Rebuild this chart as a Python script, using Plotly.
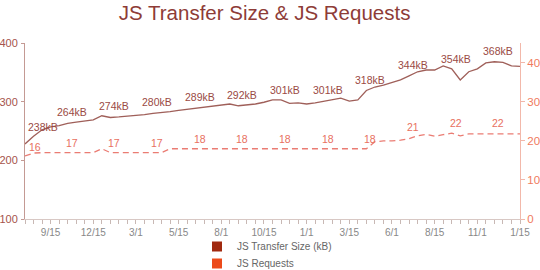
import plotly.graph_objects as go

# Semi-monthly HTTP Archive runs (one run missing in Nov 2011)
dates = [
    "8/1/2011", "8/15/2011", "9/1/2011", "9/15/2011", "10/1/2011", "10/15/2011",
    "11/15/2011", "12/1/2011", "12/15/2011",
    "1/1/2012", "1/15/2012", "2/1/2012", "2/15/2012", "3/1/2012", "3/15/2012",
    "4/1/2012", "4/15/2012", "5/1/2012", "5/15/2012", "6/1/2012", "6/15/2012",
    "7/1/2012", "7/15/2012", "8/1/2012", "8/15/2012", "9/1/2012", "9/15/2012",
    "10/1/2012", "10/15/2012", "11/1/2012", "11/15/2012", "12/1/2012", "12/15/2012",
    "1/1/2013", "1/15/2013", "2/1/2013", "2/15/2013", "3/1/2013", "3/15/2013",
    "4/1/2013", "4/15/2013", "5/1/2013", "5/15/2013", "6/1/2013", "6/15/2013",
    "7/1/2013", "7/15/2013", "8/1/2013", "8/15/2013", "9/1/2013", "9/15/2013",
    "10/1/2013", "10/15/2013", "11/1/2013", "11/15/2013", "12/1/2013", "12/15/2013",
    "1/1/2014", "1/15/2014",
]

js_size_kb = [
    228, 241, 252, 257, 259, 263, 265, 267, 269, 276,
    273, 274, 275, 276, 278, 280, 281, 283, 285, 287,
    289, 291, 293, 294, 296, 293, 294, 296, 299, 303,
    303, 297, 298, 296, 298, 301, 303, 306, 301, 303,
    319, 325, 328, 333, 337, 344, 351, 354, 354, 361,
    356, 337, 351, 356, 366, 368, 367, 361, 360,
]

js_requests = [
    16.15, 16.9, 17.0, 17.0, 17.0, 17.0, 17.0, 17.0, 17.0, 18.0,
    17.0, 17.0, 17.0, 17.0, 17.0, 17.0, 17.0, 18.0, 18.0, 18.0,
    18.0, 18.0, 18.0, 18.0, 18.0, 18.0, 18.0, 18.0, 18.0, 18.0,
    18.0, 18.0, 18.0, 18.0, 18.0, 18.0, 18.0, 18.0, 18.0, 18.0,
    18.0, 19.8, 20.0, 20.0, 20.2, 20.6, 21.3, 21.7, 21.2, 21.6,
    22.0, 21.3, 21.8, 21.8, 21.8, 21.8, 21.8, 21.8, 21.8,
]

label_idx = [0, 5, 10, 15, 20, 25, 30, 35, 40, 45, 50, 55]
size_labels = [238, 264, 274, 280, 289, 292, 301, 301, 318, 344, 354, 368]
req_labels = [16, 17, 17, 17, 18, 18, 18, 18, 18, 21, 22, 22]

tick_idx = [3, 8, 13, 18, 23, 28, 33, 38, 43, 48, 53, 58]
right_ticks = [0, 10, 20, 30, 40]
right_ticktext = ["0", "100", "200", "300", "400"]

FONT = "Liberation Sans, Arial, Helvetica, sans-serif"
SIZE_LINE = "rgba(135,55,48,0.8)"
REQ_LINE = "rgba(232,110,100,0.9)"
SIZE_SWATCH = "#a0290f"
REQ_SWATCH = "#ec4a1a"

x = list(range(len(dates)))
ticktext = ["/".join(dates[i].split("/")[:2]) for i in tick_idx]

fig = go.Figure()
fig.add_trace(go.Scatter(x=x, y=js_size_kb, mode="lines", showlegend=False,
                         line=dict(color=SIZE_LINE, width=1.3), hoverinfo="skip"))
fig.add_trace(go.Scatter(x=x, y=js_requests, mode="lines", showlegend=False, yaxis="y2",
                         line=dict(color=REQ_LINE, width=1.3, dash="6px,4px"), hoverinfo="skip"))
# legend-only swatches, each in its own legend box
fig.add_trace(go.Scatter(x=[None], y=[None], mode="markers", name="JS Transfer Size (kB)",
                         legend="legend",
                         marker=dict(symbol="square", size=10, color=SIZE_SWATCH)))
fig.add_trace(go.Scatter(x=[None], y=[None], mode="markers", name="JS Requests",
                         legend="legend2",
                         marker=dict(symbol="square", size=10, color=REQ_SWATCH)))

annotations = []
for i, v in zip(label_idx, size_labels):
    first = i == label_idx[0]
    annotations.append(dict(x=i, y=v, xref="x", yref="y", text=f"{v}kB", showarrow=False,
                            xanchor="left" if first else "center", xshift=1 if first else 4,
                            yshift=11, font=dict(family=FONT, size=10.5, color="#9a4a44")))
for i, v in zip(label_idx, req_labels):
    first = i == label_idx[0]
    annotations.append(dict(x=i, y=v, xref="x", yref="y2", text=str(v), showarrow=False,
                            xanchor="left" if first else "center", xshift=2 if first else 4,
                            yshift=10, font=dict(family=FONT, size=10.5, color="#e8705e")))

legend_common = dict(xanchor="left", yanchor="middle", bgcolor="rgba(0,0,0,0)",
                     font=dict(family=FONT, size=10, color="#666666"))

fig.update_layout(
    width=540, height=270,
    margin=dict(l=25, r=20, t=43, b=51, pad=0, autoexpand=False),
    paper_bgcolor="white", plot_bgcolor="white",
    font=dict(family=FONT),
    title=dict(text="JS Transfer Size & JS Requests", x=0.49, xanchor="center",
               y=1 - 13 / 270, yanchor="middle",
               font=dict(family=FONT, size=20.5, color="#8e3c37")),
    xaxis=dict(range=[0, 58], tickmode="array", tickvals=tick_idx, ticktext=ticktext,
               showgrid=False, zeroline=False, showline=True, linecolor="#d8c8c4", linewidth=1,
               ticks="outside", ticklen=4, tickcolor="#c8b8b4", tickangle=0,
               tickfont=dict(family=FONT, size=10, color="#888888"),
               minor=dict(ticks="outside", dtick=1, tick0=0, ticklen=4, tickcolor="#c8b8b4")),
    yaxis=dict(range=[100, 400], tickvals=[100, 200, 300, 400], showgrid=False, zeroline=False,
               showline=True, linecolor="#c49a94", linewidth=1, ticks="outside", ticklen=3,
               tickcolor="#c49a94", ticklabelstandoff=1,
               tickfont=dict(family=FONT, size=11, color="#a5544c")),
    yaxis2=dict(range=[0, 45.1], overlaying="y", side="right", tickvals=right_ticks,
                ticktext=right_ticktext, showgrid=False, zeroline=False, showline=True,
                linecolor="#f2b8aa", linewidth=1, ticks="outside", ticklen=4,
                tickcolor="#f2b8aa",
                tickfont=dict(family=FONT, size=11.5, color="#f07a5e")),
    legend=dict(x=(197 - 25) / 495, y=(219 - 246.5) / 176, **legend_common),
    legend2=dict(x=(197 - 25) / 495, y=(219 - 263.5) / 176, **legend_common),
    annotations=annotations,
)

fig.write_html("out.html")
